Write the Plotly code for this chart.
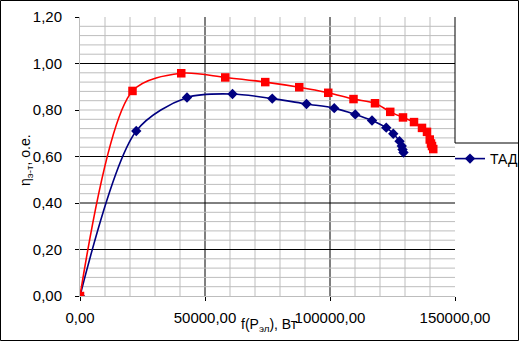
import plotly.graph_objects as go

# ---- data ----
tad_x = [0, 22500, 42800, 61000, 76900, 90600, 101700, 110100, 116800, 122500,
         125300, 127800, 128700, 129000, 129400]
tad_y = [0.0, 0.710, 0.854, 0.869, 0.849, 0.826, 0.808, 0.781, 0.755, 0.724,
         0.698, 0.666, 0.645, 0.630, 0.617]

red_x = [0, 21000, 40500, 58100, 74100, 87700, 99300, 109400, 118000, 124100,
         129200, 133600, 136800, 138800, 139900, 140400, 140800, 141300]
red_y = [0.0, 0.882, 0.958, 0.940, 0.920, 0.898, 0.874, 0.847, 0.829, 0.792,
         0.768, 0.748, 0.723, 0.706, 0.673, 0.656, 0.645, 0.632]

series_name = "ТАД"
x_tickvals = [0, 50000, 100000, 150000]
x_ticktext = ["0,00", "50000,00", "100000,00", "150000,00"]
y_tickvals = [0, 0.2, 0.4, 0.6, 0.8, 1.0, 1.2]
y_ticktext = ["0,00", "0,20", "0,40", "0,60", "0,80", "1,00", "1,20"]
x_title = "f(P<sub>эл</sub>), Вт"
y_title = "η<sub>э-т</sub>, о.е."

# ---- style ----
FONT = "Liberation Sans, Arial, sans-serif"
W, H = 519, 341
L, R, T, B = 80, 64, 17, 45
XMAX, YMAX = 150000, 1.2
GRAY = "#BDBDBD"
pw, ph = W - L - R, H - T - B

def px_x(p):
    return (p - L) / pw

def px_y(p):
    return (H - B - p) / ph

fig = go.Figure()
fig.add_trace(go.Scatter(
    x=tad_x, y=tad_y, mode="lines+markers", name=series_name,
    line=dict(color="#000080", width=1.6, shape="spline", smoothing=0.85),
    marker=dict(symbol="diamond", size=8, color="#000080"),
))
fig.add_trace(go.Scatter(
    x=red_x, y=red_y, mode="lines+markers", name="", showlegend=False,
    line=dict(color="#FF0000", width=1.6, shape="spline", smoothing=0.85),
    marker=dict(symbol="square", size=8.5, color="#FF0000"),
))

shapes = []
for i in range(1, 15):
    xv = i * 10000
    col = "black" if xv in (50000, 100000) else GRAY
    shapes.append(dict(type="line", xref="x", yref="y", x0=xv, x1=xv, y0=0, y1=YMAX,
                       line=dict(color=col, width=1), layer="below"))
for j in range(1, 30):
    yv = round(j * 0.04, 2)
    col = "black" if yv in (0.2, 0.4, 0.6, 1.0) else GRAY
    shapes.append(dict(type="line", xref="x", yref="y", x0=0, x1=XMAX, y0=yv, y1=yv,
                       line=dict(color=col, width=1), layer="below"))
ycut = px_y(143)
shapes.append(dict(type="line", xref="paper", yref="paper", x0=1, x1=1, y0=ycut, y1=1,
                   line=dict(color="black", width=1)))
shapes.append(dict(type="line", xref="paper", yref="paper", x0=1, x1=px_x(W + 5),
                   y0=ycut, y1=ycut, line=dict(color="black", width=1)))
shapes.append(dict(type="rect", xref="paper", yref="paper",
                   x0=px_x(0.5), x1=px_x(W - 0.5), y0=px_y(H - 0.5), y1=px_y(0.5),
                   line=dict(color="black", width=1)))

annotations = [
    dict(text=x_title, xref="paper", yref="paper", x=px_x(269), y=px_y(325),
         xanchor="center", yanchor="middle", showarrow=False, font=dict(size=14)),
    dict(text=y_title, xref="paper", yref="paper", x=px_x(26), y=px_y(160),
         xanchor="center", yanchor="middle", showarrow=False, textangle=-90,
         font=dict(size=14)),
]

fig.update_layout(
    width=W, height=H,
    margin=dict(l=L, r=R, t=T, b=B, autoexpand=False),
    paper_bgcolor="white", plot_bgcolor="white",
    font=dict(family=FONT, size=15, color="black"),
    shapes=shapes, annotations=annotations,
    showlegend=True,
    legend=dict(x=px_x(450), y=px_y(143), xanchor="left", yanchor="top",
                bgcolor="rgba(0,0,0,0)", font=dict(size=14), itemwidth=30),
    xaxis=dict(range=[0, XMAX], tickvals=x_tickvals, ticktext=x_ticktext,
               showgrid=False, zeroline=False, showline=True, linecolor=GRAY,
               ticks="outside", ticklen=4, tickcolor="black", automargin=False,
               ticklabelstandoff=4),
    yaxis=dict(range=[0, YMAX], tickvals=y_tickvals, ticktext=y_ticktext,
               showgrid=False, zeroline=False, showline=True, linecolor=GRAY,
               ticks="outside", ticklen=4, tickcolor="black", automargin=False,
               ticklabelstandoff=10),
)
fig.write_html("out.html")
